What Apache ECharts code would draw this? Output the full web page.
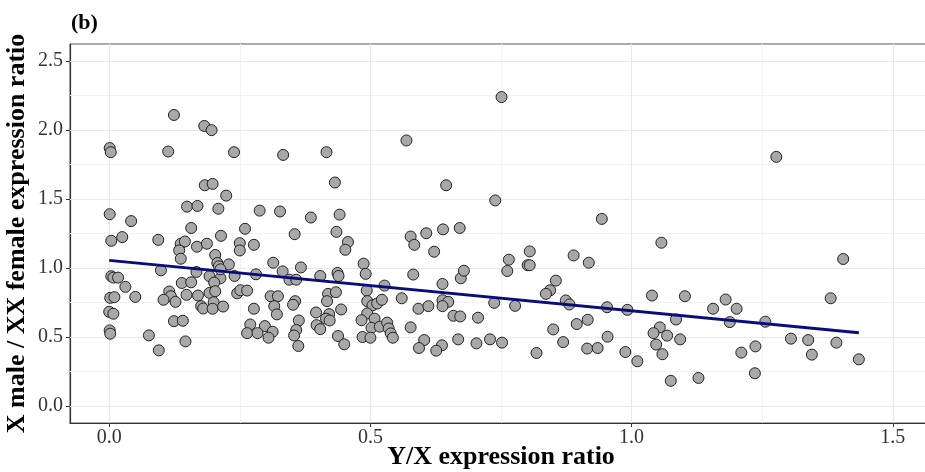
<!DOCTYPE html>
<html>
<head>
<meta charset="utf-8">
<script src="https://cdn.jsdelivr.net/npm/echarts@6/dist/echarts.min.js"></script>
<style>
html, body { margin: 0; padding: 0; background: #fff; }
#chart { width: 925px; height: 472px; }
</style>
</head>
<body>
<div id="chart"></div>
<script>
// Y/X expression ratio (x) and X male / XX female ratio (y)
var xRatio = [
  0.124, 0.182, 0.196, 0.001, 0.003, 0.113, 0.239, 0.333, 0.183, 0.198, 0.224, 0.001, 0.042, 0.149, 0.169, 0.209,
  0.288, 0.327, 0.157, 0.26, 0.751, 0.569, 0.416, 0.432, 0.645, 0.739, 0.386, 0.441, 0.671, 0.639, 0.943, 1.277,
  0.025, 0.214, 0.355, 0.435, 0.577, 0.607, 0.004, 0.094, 0.137, 0.145, 0.168, 0.187, 0.25, 0.277, 0.457, 0.584, 1.057,
  0.134, 0.25, 0.452, 0.622, 0.137, 0.203, 0.207, 0.21, 0.229, 0.314, 0.367, 0.487, 0.765, 0.805, 0.801, 0.805, 0.889, 0.918, 1.405,
  0.332, 0.345, 0.358, 0.099, 0.167, 0.192, 0.213, 0.213, 0.201, 0.24, 0.281, 0.004, 0.008, 0.017, 0.031, 0.139, 0.157,
  0.404, 0.437, 0.439, 0.491, 0.527, 0.582, 0.638, 0.673, 0.679, 0.762, 0.855,
  0.05, 0.002, 0.01, 0.115, 0.118, 0.104, 0.127, 0.148, 0.17, 0.192, 0.203, 0.20, 0.176, 0.18, 0.198, 0.218,
  0.245, 0.251, 0.264, 0.277, 0.309, 0.323, 0.316, 0.356, 0.352, 0.493, 0.419, 0.434, 0.417, 0.444, 0.494, 0.504,
  0.513, 0.522, 0.56, 0.592, 0.611, 0.638, 0.649, 0.638, 0.737, 0.844, 0.836, 0.777, 0.874, 0.881, 0.953, 0.992,
  1.039, 1.102, 1.156, 1.18, 1.201, 1.381,
  0.0, 0.008, 0.321, 0.124, 0.141, 0.27, 0.298, 0.363, 0.396, 0.421, 0.415, 0.422, 0.397, 0.404, 0.358, 0.494,
  0.483, 0.508, 0.502, 0.518, 0.532, 0.535, 0.577, 0.659, 0.672, 0.706, 1.085, 1.054, 0.916, 0.895, 0.85, 1.188, 1.256,
  0.001, 0.002, 0.076, 0.095, 0.146, 0.264, 0.284, 0.313, 0.305, 0.354, 0.362, 0.539, 0.543, 0.485, 0.50, 0.438,
  0.45, 0.603, 0.593, 0.637, 0.626, 0.668, 0.703, 0.729, 0.752, 1.042, 1.068, 1.093, 1.047, 1.059, 1.075, 1.128,
  0.869, 0.954, 0.915, 0.935, 0.988, 1.011, 0.818, 1.21, 1.237, 1.236, 1.305, 1.338, 1.345, 1.392, 1.435
];
var yRatio = [
  2.11, 2.03, 2.00, 1.87, 1.84, 1.845, 1.84, 1.82, 1.60, 1.61, 1.525, 1.39, 1.34, 1.445, 1.45, 1.43,
  1.416, 1.41, 1.29, 1.284, 2.24, 1.925, 1.84, 1.62, 1.60, 1.49, 1.366, 1.387, 1.29, 1.28, 1.356, 1.806,
  1.224, 1.233, 1.245, 1.262, 1.228, 1.252, 1.197, 1.204, 1.176, 1.192, 1.154, 1.176, 1.18, 1.168, 1.188, 1.168, 1.183,
  1.127, 1.127, 1.132, 1.118, 1.067, 1.094, 1.036, 1.012, 1.026, 1.038, 1.004, 1.031, 1.06, 1.12, 1.02, 1.02, 1.091, 1.038, 1.065,
  0.975, 0.915, 0.915, 0.983, 0.971, 0.94, 0.925, 0.99, 0.894, 0.942, 0.954, 0.94, 0.93, 0.93, 0.863, 0.891, 0.896,
  0.942, 0.964, 0.942, 0.957, 0.872, 0.952, 0.884, 0.925, 0.98, 0.978, 0.908,
  0.79, 0.783, 0.788, 0.829, 0.795, 0.769, 0.754, 0.805, 0.80, 0.819, 0.831, 0.751, 0.723, 0.706, 0.704, 0.72,
  0.816, 0.838, 0.836, 0.704, 0.795, 0.795, 0.723, 0.759, 0.733, 0.836, 0.812, 0.824, 0.759, 0.699, 0.759, 0.728,
  0.742, 0.769, 0.78, 0.704, 0.723, 0.766, 0.754, 0.723, 0.747, 0.838, 0.812, 0.725, 0.764, 0.735, 0.715, 0.696,
  0.80, 0.795, 0.704, 0.771, 0.704, 0.78,
  0.682, 0.668, 0.663, 0.614, 0.617, 0.59, 0.578, 0.619, 0.677, 0.665, 0.632, 0.619, 0.585, 0.556, 0.55, 0.67,
  0.621, 0.632, 0.566, 0.574, 0.603, 0.561, 0.569, 0.653, 0.648, 0.639, 0.626, 0.569, 0.624, 0.593, 0.554, 0.607, 0.61,
  0.547, 0.523, 0.511, 0.402, 0.467, 0.527, 0.527, 0.537, 0.494, 0.51, 0.434, 0.525, 0.494, 0.499, 0.494, 0.506,
  0.446, 0.477, 0.419, 0.439, 0.40, 0.482, 0.453, 0.482, 0.458, 0.527, 0.509, 0.482, 0.444, 0.374, 0.181, 0.202,
  0.462, 0.501, 0.415, 0.419, 0.39, 0.323, 0.383, 0.386, 0.431, 0.236, 0.487, 0.477, 0.371, 0.458, 0.337
];

// fitted regression line, end points
var fitX = [0, 1.435];
var fitY = [1.055, 0.53];

var xTicks = [0, 0.5, 1.0, 1.5];
var yTicks = [0, 0.5, 1.0, 1.5, 2.0, 2.5];
var xMinor = [0.25, 0.75, 1.25];
var yMinor = [0.25, 0.75, 1.25, 1.75, 2.25];

var serif = '"Liberation Serif", "DejaVu Serif", serif';

var points = xRatio.map(function (x, i) { return [x, yRatio[i]]; });
var fitLine = fitX.map(function (x, i) { return [x, fitY[i]]; });

// grid lines as mark lines so they sit on the ticks, not on min/max
var minorStyle = { color: '#F2F2F2', width: 1, type: 'solid' };
var majorStyle = { color: '#E8E8E8', width: 1.2, type: 'solid' };
var gridLines = [];
xMinor.forEach(function (v) { gridLines.push({ xAxis: v, lineStyle: minorStyle }); });
yMinor.forEach(function (v) { gridLines.push({ yAxis: v, lineStyle: minorStyle }); });
xTicks.forEach(function (v) { gridLines.push({ xAxis: v, lineStyle: majorStyle }); });
yTicks.forEach(function (v) { gridLines.push({ yAxis: v, lineStyle: majorStyle }); });

var chart = echarts.init(document.getElementById('chart'));
var option = {
  animation: false,
  backgroundColor: '#fff',
  title: {
    text: '(b)',
    left: 66,
    top: 7,
    textStyle: { fontFamily: serif, fontWeight: 'bold', fontSize: 22, color: '#000' }
  },
  grid: {
    left: 70,
    top: 44,
    width: 862,
    height: 379,
    outerBoundsMode: 'none',
    show: true,
    borderColor: '#555',
    borderWidth: 1,
    backgroundColor: '#fff'
  },
  xAxis: {
    type: 'value',
    min: -0.075,
    max: 1.575,
    name: 'Y/X expression ratio',
    nameLocation: 'middle',
    nameGap: 21,
    nameMoveOverlap: false,
    nameTextStyle: { fontFamily: serif, fontWeight: 'bold', fontSize: 26, color: '#000' },
    axisLine: { show: true, onZero: false, lineStyle: { color: '#333', width: 1.2 } },
    axisTick: { show: true, length: 4, customValues: xTicks, lineStyle: { color: '#333' } },
    axisLabel: {
      customValues: xTicks,
      margin: 5,
      fontFamily: serif,
      fontSize: 20,
      color: '#333',
      formatter: function (v) { return v.toFixed(1); }
    },
    splitLine: { show: false }
  },
  yAxis: {
    type: 'value',
    min: -0.125,
    max: 2.625,
    name: 'X male / XX female expression ratio',
    nameLocation: 'middle',
    nameRotate: 90,
    nameGap: 40,
    nameMoveOverlap: false,
    nameTextStyle: { fontFamily: serif, fontWeight: 'bold', fontSize: 26, color: '#000' },
    axisLine: { show: true, onZero: false, lineStyle: { color: '#333', width: 1.2 } },
    axisTick: { show: true, length: 4, customValues: yTicks, lineStyle: { color: '#333' } },
    axisLabel: {
      customValues: yTicks,
      margin: 7,
      fontFamily: serif,
      fontSize: 20,
      color: '#333',
      formatter: function (v) { return v.toFixed(1); }
    },
    splitLine: { show: false }
  },
  series: [
    {
      type: 'line',
      data: [],
      z: 1,
      silent: true,
      markLine: {
        z: 1,
        silent: true,
        symbol: ['none', 'none'],
        label: { show: false },
        emphasis: { disabled: true },
        animation: false,
        data: gridLines
      }
    },
    {
      type: 'scatter',
      data: points,
      z: 3,
      symbolSize: 11,
      itemStyle: { color: '#A8A8A8', borderColor: '#222', borderWidth: 1, opacity: 1 }
    },
    {
      type: 'line',
      data: fitLine,
      z: 4,
      symbol: 'none',
      lineStyle: { color: '#0B0B7E', width: 3 }
    }
  ]
};
chart.setOption(option);
</script>
</body>
</html>
